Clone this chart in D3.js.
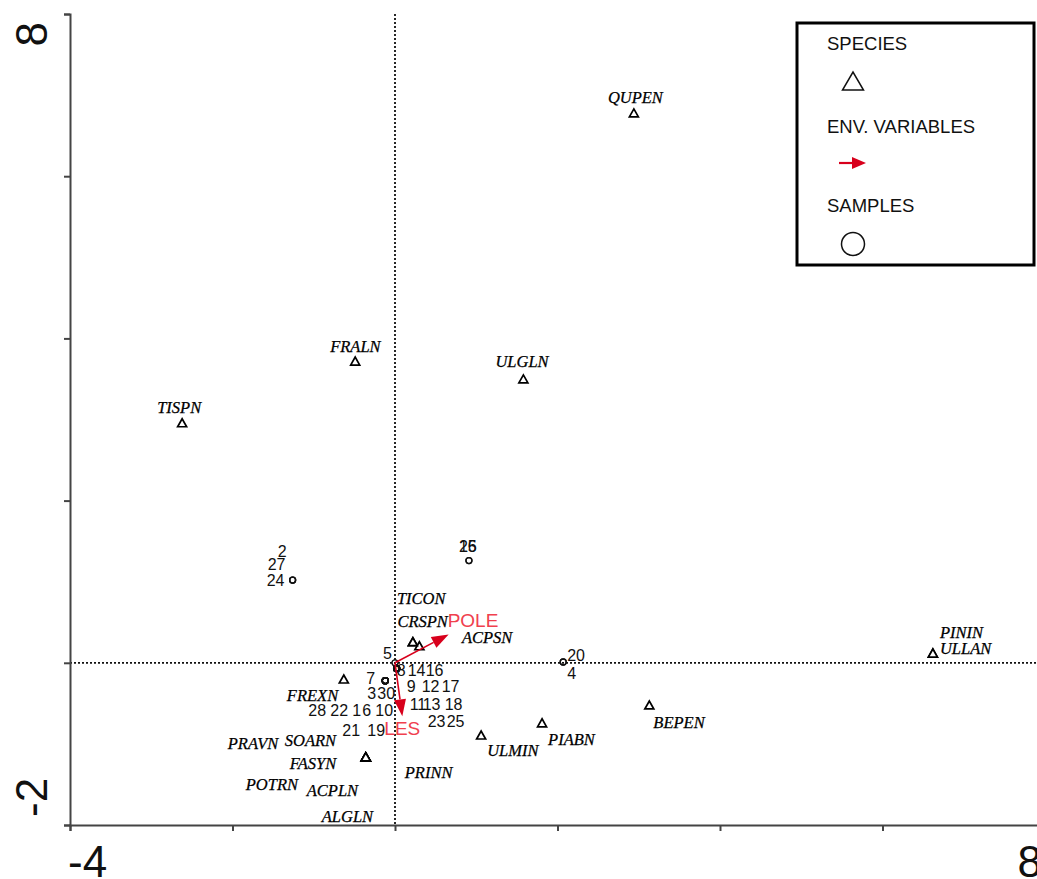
<!DOCTYPE html>
<html>
<head>
<meta charset="utf-8">
<script src="https://cdn.jsdelivr.net/npm/d3@7"></script>
<style>
  html, body { margin: 0; padding: 0; background: #fff; }
  svg { display: block; }
</style>
</head>
<body>
<svg id="chart" width="1037" height="879"></svg>
<script>
// Ordination biplot: species (triangles), samples (circles), environmental variables (arrows)

const xDomain = [-4, 8];
const yDomain = [-2, 8];
const xTicks = [-4, -2, 0, 2, 4, 6, 8];
const yTicks = [-2, 0, 2, 4, 6, 8];
const xEndLabels = ["-4", "8"];
const yEndLabels = ["-2", "8"];

// Species scores
const speciesNames = ["QUPEN", "FRALN", "TISPN", "ULGLN", "PININ", "ULLAN", "BEPEN", "PIABN", "ULMIN",
  "FREXN", "SOARN", "PRAVN", "FASYN", "POTRN", "ACPLN", "ALGLN", "PRINN", "TICON", "CRSPN", "ACPSN"];
const speciesX = [2.94, -0.49, -2.62, 1.58, 6.62, 6.62, 3.13, 1.81, 1.06,
  -0.63, -0.36, -0.36, -0.36, -0.36, -0.36, -0.36, -0.36, 0.22, 0.30, 0.22];
const speciesY = [6.78, 3.72, 2.96, 3.50, 0.12, 0.12, -0.52, -0.74, -0.89,
  -0.20, -1.16, -1.16, -1.16, -1.16, -1.16, -1.16, -1.16, 0.26, 0.21, 0.26];
// label placement relative to the marker (px)
const speciesLabelDx = [-26, -25, -25, -28, 7, 7, 4, 6, 6, -57, -81, -138, -76, -120, -59, -44, 39, -16, -22, 49];
const speciesLabelDy = [-10, -9, -10, -12, -15, 1, 23, 22, 21, 22, -11, -8, 12, 33, 39, 65, 21, -38, -19, 1];

// Sample scores
const sampleIds = ["2", "27", "24", "15", "26", "20", "4",
  "7", "3", "30", "28", "22", "1", "6", "10", "21", "19",
  "8", "14", "16", "9", "12", "17", "11", "13", "18", "23", "25", "5"];
const sampleX = [-1.26, -1.26, -1.26, 0.91, 0.91, 2.07, 2.07,
  -0.12, -0.12, -0.12, -0.12, -0.12, -0.12, -0.12, -0.12, -0.12, -0.12,
  0.02, 0.02, 0.02, 0.02, 0.02, 0.02, 0.02, 0.02, 0.02, 0.02, 0.02, 0.0];
const sampleY = [1.02, 1.02, 1.02, 1.26, 1.26, 0.01, 0.01,
  -0.22, -0.22, -0.22, -0.22, -0.22, -0.22, -0.22, -0.22, -0.22, -0.22,
  -0.07, -0.07, -0.07, -0.07, -0.07, -0.07, -0.07, -0.07, -0.07, -0.07, -0.07, 0.0];
const sampleLabelDx = [-15, -25, -26, -10, -10, 4, 4,
  -19, -18, -8, -77, -55, -33, -23, -10, -43, -18,
  0, 11, 29, 10, 25, 45, 13, 26, 48, 31, 50, -12];
const sampleLabelDy = [-23, -10, 6, -9, -9, -1, 17,
  3, 18, 18, 35, 35, 35, 35, 35, 55, 55,
  8, 8, 8, 24, 24, 24, 42, 42, 42, 59, 59, -4];

// Environmental variable arrows
const envNames = ["POLE", "LES"];
const envX = [0.66, 0.09];
const envY = [0.35, -0.66];
const envLabelDx = [-1, -18];
const envLabelDy = [-7, 19];

const svg = d3.select("#chart");
const x = d3.scaleLinear().domain(xDomain).range([70, 1045]);
const y = d3.scaleLinear().domain(yDomain).range([825, 14]);

const ARROW = "#d8001c";
const ARROW_TEXT = "#f0404e";

// Reference lines through the origin
svg.append("line")
  .attr("x1", x(0)).attr("x2", x(0)).attr("y1", y(8)).attr("y2", y(-2))
  .attr("stroke", "#111").attr("stroke-width", 1.8).attr("stroke-dasharray", "2,2");
svg.append("line")
  .attr("x1", x(-4)).attr("x2", x(8)).attr("y1", y(0)).attr("y2", y(0))
  .attr("stroke", "#111").attr("stroke-width", 1.8).attr("stroke-dasharray", "2,2");

// Axes
const axisL = svg.append("g").attr("transform", `translate(${x(-4)},0)`)
  .call(d3.axisLeft(y).tickValues(yTicks).tickSize(6).tickSizeOuter(6).tickFormat(""));
const axisB = svg.append("g").attr("transform", `translate(0,${y(-2)})`)
  .call(d3.axisBottom(x).tickValues(xTicks).tickSize(6).tickSizeOuter(6).tickFormat(""));
[axisL, axisB].forEach(g => {
  g.selectAll("path, line").attr("stroke", "#444").attr("stroke-width", 2);
});

// End tick labels
svg.append("text").attr("x", x(-4) - 2).attr("y", 877)
  .attr("font-family", "Liberation Sans, Arial, sans-serif").attr("font-size", 44)
  .attr("text-anchor", "start").attr("fill", "#111").text(xEndLabels[0]);
svg.append("text").attr("x", x(8) - 3).attr("y", 877)
  .attr("font-family", "Liberation Sans, Arial, sans-serif").attr("font-size", 44)
  .attr("text-anchor", "end").attr("fill", "#111").text(xEndLabels[1]);
svg.append("text").attr("transform", `translate(47,${y(-2) - 8}) rotate(-90)`)
  .attr("font-family", "Liberation Sans, Arial, sans-serif").attr("font-size", 44)
  .attr("text-anchor", "start").attr("fill", "#111").text(yEndLabels[0]);
svg.append("text").attr("transform", `translate(47,${y(8) + 8}) rotate(-90)`)
  .attr("font-family", "Liberation Sans, Arial, sans-serif").attr("font-size", 44)
  .attr("text-anchor", "end").attr("fill", "#111").text(yEndLabels[1]);

// Triangle marker
function triPath(cx, cy, w, h) {
  return `M${cx - w / 2},${cy + h / 2}L${cx + w / 2},${cy + h / 2}L${cx},${cy - h / 2}Z`;
}

// Samples
const samples = sampleIds.map((id, i) => ({ id, x: sampleX[i], y: sampleY[i], dx: sampleLabelDx[i], dy: sampleLabelDy[i] }));
svg.append("g").selectAll("circle").data(samples).join("circle")
  .attr("cx", d => x(d.x)).attr("cy", d => y(d.y)).attr("r", 3)
  .attr("fill", "none").attr("stroke", "#111").attr("stroke-width", 1.3);
svg.append("g").selectAll("text").data(samples).join("text")
  .attr("x", d => x(d.x) + d.dx).attr("y", d => y(d.y) + d.dy)
  .attr("font-family", "Liberation Sans, Arial, sans-serif").attr("font-size", 16)
  .attr("fill", "#111").text(d => d.id);

// Species
const species = speciesNames.map((n, i) => ({ n, x: speciesX[i], y: speciesY[i], dx: speciesLabelDx[i], dy: speciesLabelDy[i] }));
svg.append("g").selectAll("path").data(species).join("path")
  .attr("d", d => triPath(x(d.x), y(d.y), 9, 8))
  .attr("fill", "#fff").attr("stroke", "#000").attr("stroke-width", 1.7);
svg.append("g").selectAll("text").data(species).join("text")
  .attr("x", d => x(d.x) + d.dx).attr("y", d => y(d.y) + d.dy)
  .attr("font-family", "Liberation Serif, Times New Roman, serif").attr("font-style", "italic")
  .attr("font-size", 16.5).attr("fill", "#000")
  .attr("stroke", "#000").attr("stroke-width", 0.25).text(d => d.n);

// Environmental arrows
function arrow(g, x0, y0, x1, y1, headLen, headW, color, width) {
  const a = Math.atan2(y1 - y0, x1 - x0);
  const bx = x1 - headLen * Math.cos(a), by = y1 - headLen * Math.sin(a);
  g.append("line").attr("x1", x0).attr("y1", y0).attr("x2", bx).attr("y2", by)
    .attr("stroke", color).attr("stroke-width", width);
  const px = -Math.sin(a) * headW / 2, py = Math.cos(a) * headW / 2;
  g.append("path").attr("d", `M${x1},${y1}L${bx + px},${by + py}L${bx - px},${by - py}Z`)
    .attr("fill", color);
}
const envG = svg.append("g");
envNames.forEach((n, i) => {
  arrow(envG, x(0), y(0), x(envX[i]), y(envY[i]), 17, 12, ARROW, 1.6);
  envG.append("text").attr("x", x(envX[i]) + envLabelDx[i]).attr("y", y(envY[i]) + envLabelDy[i])
    .attr("font-family", "Liberation Sans, Arial, sans-serif").attr("font-size", 19)
    .attr("fill", ARROW_TEXT).text(n);
});

// Legend
const lg = svg.append("g");
lg.append("rect").attr("x", 797).attr("y", 23).attr("width", 237).attr("height", 242)
  .attr("fill", "#fff").attr("stroke", "#000").attr("stroke-width", 3);
const legendItems = ["SPECIES", "ENV. VARIABLES", "SAMPLES"];
const legendBase = [50, 133, 212];
legendItems.forEach((t, i) => {
  lg.append("text").attr("x", 827).attr("y", legendBase[i])
    .attr("font-family", "Liberation Sans, Arial, sans-serif").attr("font-size", 18.5)
    .attr("fill", "#111").text(t);
});
lg.append("path").attr("d", triPath(853, 81, 21, 18))
  .attr("fill", "none").attr("stroke", "#111").attr("stroke-width", 1.5);
arrow(lg, 839, 163, 866, 163, 14, 12, ARROW, 2.2);
lg.append("circle").attr("cx", 853).attr("cy", 244).attr("r", 11.5)
  .attr("fill", "none").attr("stroke", "#111").attr("stroke-width", 1.5);
</script>
</body>
</html>
